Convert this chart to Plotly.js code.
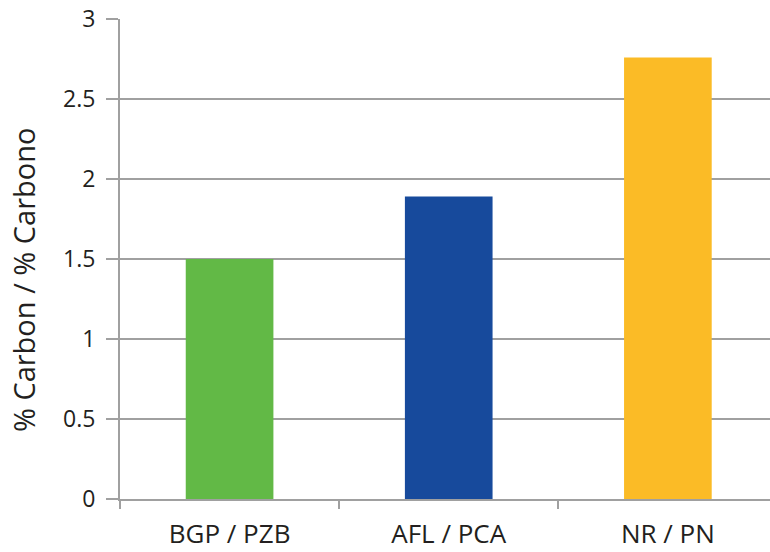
<!DOCTYPE html>
<html>
<head>
<meta charset="utf-8">
<script src="https://cdn.plot.ly/plotly-3.0.1.min.js"></script>
<style>html,body{margin:0;padding:0;background:#fff;}#chart{width:770px;height:552px;}</style>
</head>
<body>
<div id="chart"></div>
<script>
var categories = ["BGP / PZB", "AFL / PCA", "NR / PN"];
var values = [1.5, 1.89, 2.76];
var barColors = ["#62b946", "#174a9c", "#fbbb26"];
var yTickVals = [0, 0.5, 1, 1.5, 2, 2.5, 3];
var yTickText = ["0", "0.5", "1", "1.5", "2", "2.5", "3"];
var yTitle = "% Carbon / % Carbono";

var trace = {
  type: "bar",
  x: categories,
  y: values,
  marker: {color: barColors, line: {width: 0}},
  width: 0.4,
  hoverinfo: "none"
};

var layout = {
  width: 770, height: 552,
  margin: {l: 120, r: 0, t: 19, b: 53},
  paper_bgcolor: "#ffffff",
  plot_bgcolor: "#ffffff",
  font: {family: "Open Sans, Noto Sans, sans-serif", color: "#231f20"},
  showlegend: false,
  xaxis: {
    type: "category",
    range: [-0.5, 2.466],
    tickson: "boundaries",
    ticks: "outside",
    ticklen: 8,
    tickwidth: 2,
    tickcolor: "#a0a0a0",
    showline: true,
    linecolor: "#a0a0a0",
    linewidth: 2,
    showgrid: false,
    tickfont: {size: 26, color: "#231f20"},
    ticklabelstandoff: 11,
    fixedrange: true
  },
  yaxis: {
    range: [0, 3],
    tickmode: "array",
    tickvals: yTickVals,
    ticktext: yTickText,
    ticks: "outside",
    ticklen: 12,
    tickwidth: 2,
    tickcolor: "#a0a0a0",
    showline: true,
    linecolor: "#a0a0a0",
    linewidth: 2,
    showgrid: true,
    gridcolor: "#a0a0a0",
    gridwidth: 2,
    zeroline: false,
    tickfont: {size: 23, color: "#231f20"},
    ticklabelstandoff: 6,
    fixedrange: true
  },
  annotations: [{
    text: yTitle,
    xref: "paper", yref: "paper",
    x: 0, y: 0.456,
    xshift: -97,
    xanchor: "center", yanchor: "middle",
    textangle: -90,
    showarrow: false,
    font: {size: 29, color: "#231f20"}
  }]
};

Plotly.newPlot("chart", [trace], layout, {displayModeBar: false, staticPlot: true});
</script>
</body>
</html>
